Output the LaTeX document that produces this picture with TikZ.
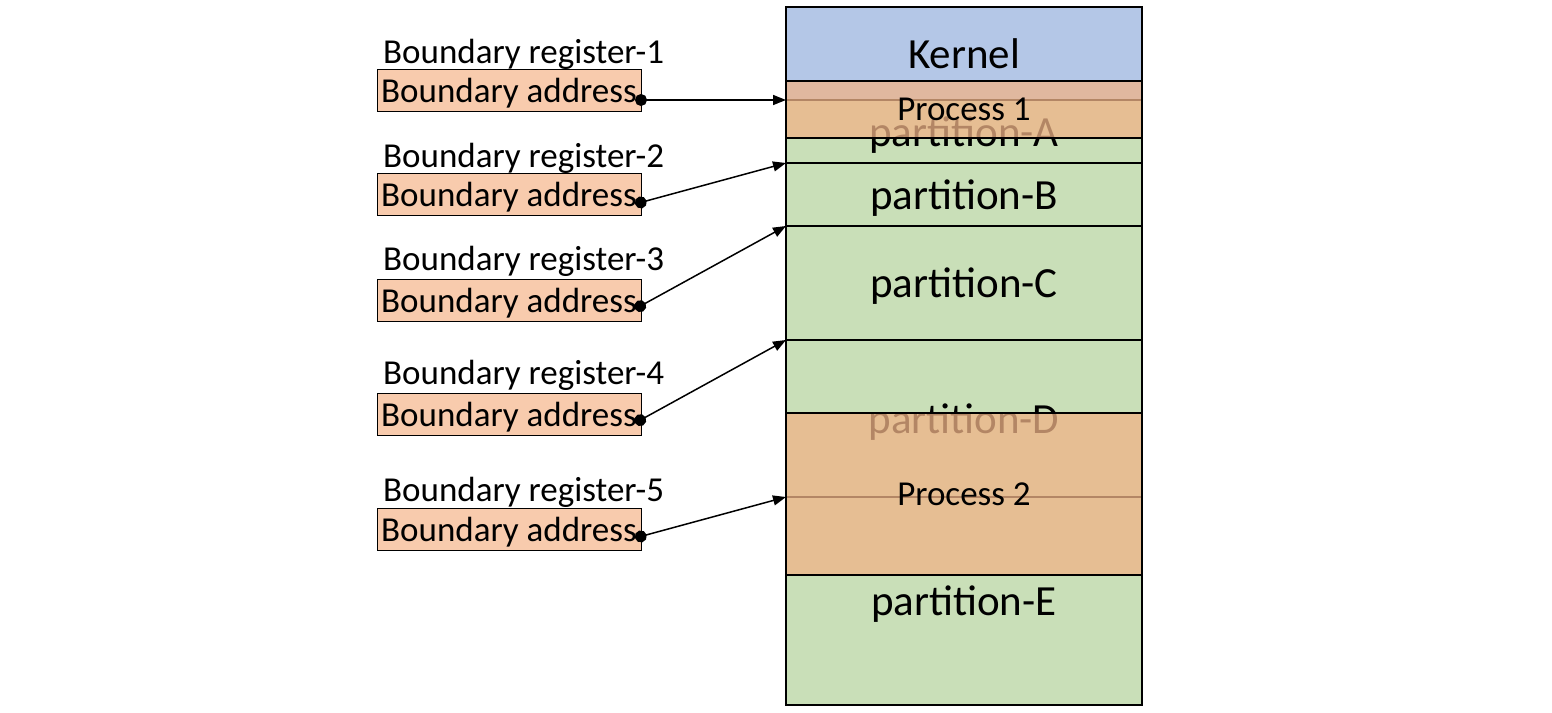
\documentclass[tikz,border=0pt]{standalone}
\usepackage{fontspec}
\setmainfont{Carlito}
\usetikzlibrary{arrows.meta}
\definecolor{kern}{HTML}{B4C7E7}
\definecolor{part}{HTML}{C9DFB8}
\definecolor{proc}{HTML}{F0B487}
\definecolor{reg}{HTML}{F8CBAD}
\tikzset{
  mem/.style={draw, line width=1.5pt, anchor=north west, minimum width=356pt, inner sep=0pt, outer sep=0pt, text depth=0pt, font=\fontsize{43}{50}\selectfont},
  procbox/.style={mem, fill=proc, fill opacity=0.75, text opacity=1, draw opacity=1, font=\fontsize{35}{42}\selectfont},
  regbox/.style={draw, line width=1pt, fill=reg, anchor=north west, minimum width=264pt, minimum height=42pt, inner sep=0pt, outer sep=0pt, text depth=0pt, font=\fontsize{35}{42}\selectfont},
  reglabel/.style={anchor=west, inner sep=0pt, font=\fontsize{35}{42}\selectfont},
  conn/.style={line width=1.5pt, {Circle[length=12pt]}-{Triangle[length=13pt,width=10pt]}}
}
\begin{document}
\begin{tikzpicture}[x=1pt,y=-1pt]
\useasboundingbox (0,0) rectangle (1552,712);
% memory column
\node[mem, fill=kern, minimum height=93pt] (kern) at (786,7) {Kernel};
\node[mem, fill=part, minimum height=63pt] (pA) at (786,100) {partition-A};
\node[mem, fill=part, minimum height=63pt] (pB) at (786,163) {partition-B};
\node[mem, fill=part, minimum height=114pt] (pC) at (786,226) {partition-C};
\node[mem, fill=part, minimum height=157pt] (pD) at (786,340) {partition-D};
\node[mem, fill=part, minimum height=208pt] (pE) at (786,497) {partition-E};
\node[procbox, minimum height=57pt] (p1) at (786,81) {Process 1};
\node[procbox, minimum height=162pt] (p2) at (786,413) {Process 2};
% registers
\node[reglabel] (l1) at (383,54) {Boundary register-1};
\node[regbox] (r1) at (377,69) {Boundary address};
\node[reglabel] (l2) at (383,158) {Boundary register-2};
\node[regbox] (r2) at (377,173) {Boundary address};
\node[reglabel] (l3) at (383,261) {Boundary register-3};
\node[regbox] (r3) at (377,279) {Boundary address};
\node[reglabel] (l4) at (383,375) {Boundary register-4};
\node[regbox] (r4) at (377,393) {Boundary address};
\node[reglabel] (l5) at (383,492) {Boundary register-5};
\node[regbox] (r5) at (377,508) {Boundary address};
\coordinate (d1) at ([xshift=-6pt,yshift=-10pt]r1.east);
\coordinate (d2) at ([xshift=-6pt,yshift=-10pt]r2.east);
\coordinate (d3) at ([xshift=-6pt,yshift=-9pt]r3.east);
\coordinate (d4) at ([xshift=-6pt,yshift=-9pt]r4.east);
\coordinate (d5) at ([xshift=-6pt,yshift=-9pt]r5.east);
\draw[conn] (d1) -- (pA.north west);
\draw[conn] (d2) -- (pB.north west);
\draw[conn] (d3) -- (pC.north west);
\draw[conn] (d4) -- (pD.north west);
\draw[conn] (d5) -- (pE.north west);
\end{tikzpicture}
\end{document}
